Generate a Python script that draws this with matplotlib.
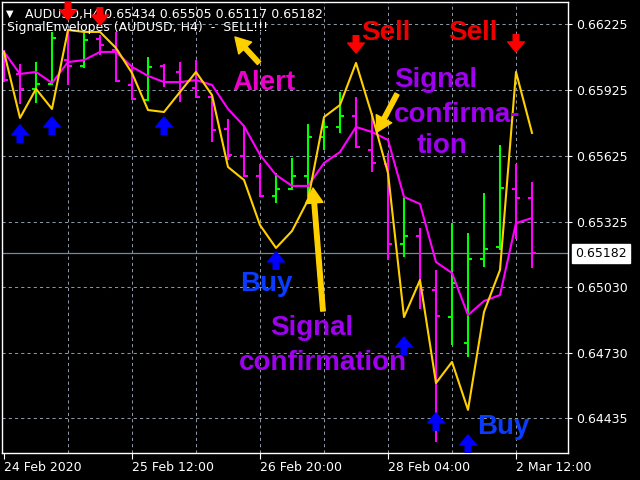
import numpy as np
import matplotlib
matplotlib.use('Agg')
import matplotlib.pyplot as plt

# AUDUSD H4 bars, index 0 is the leftmost visible bar
bar_open = [0.66084, 0.65998, 0.65930, 0.65952, 0.66061, 0.66034, 0.66157, 0.66107, 0.65948, 0.65880,
            0.66034, 0.66007, 0.65934, 0.65893, 0.65748, 0.65625, 0.65534, 0.65443, 0.65475, 0.65534,
            0.65711, 0.65757, 0.65807, 0.65652, 0.65589, 0.65225, 0.65261, 0.65016, 0.64893, 0.64775,
            0.65157, 0.65211, 0.65475, 0.65434]
bar_high = [0.66107, 0.66043, 0.66052, 0.66189, 0.66202, 0.66184, 0.66175, 0.66189, 0.66025, 0.66075,
            0.66043, 0.66052, 0.66061, 0.65893, 0.65793, 0.65766, 0.65589, 0.65548, 0.65616, 0.65770,
            0.65780, 0.65916, 0.65893, 0.65820, 0.65639, 0.65434, 0.65298, 0.65107, 0.65320, 0.65275,
            0.65457, 0.65675, 0.65589, 0.65505]
bar_low = [0.65961, 0.65861, 0.65866, 0.65948, 0.65948, 0.66025, 0.66084, 0.65961, 0.65880, 0.65875,
           0.65939, 0.65870, 0.65889, 0.65689, 0.65607, 0.65530, 0.65439, 0.65411, 0.65470, 0.65439,
           0.65652, 0.65730, 0.65661, 0.65552, 0.65152, 0.65166, 0.64930, 0.64325, 0.64766, 0.64711,
           0.65121, 0.65198, 0.65248, 0.65117]
bar_close = [0.65970, 0.65930, 0.65952, 0.66161, 0.66034, 0.66152, 0.66130, 0.65966, 0.65884, 0.66030,
             0.65961, 0.65961, 0.65893, 0.65743, 0.65630, 0.65534, 0.65443, 0.65475, 0.65534, 0.65711,
             0.65757, 0.65807, 0.65666, 0.65593, 0.65225, 0.65261, 0.65016, 0.64898, 0.65048, 0.65157,
             0.65202, 0.65480, 0.65434, 0.65182]

# indicator lines
fast_line = [0.66098, 0.65798, 0.65930, 0.65839, 0.66198, 0.66189, 0.66189, 0.66116, 0.66002, 0.65834,
             0.65825, 0.65916, 0.66007, 0.65902, 0.65575, 0.65516, 0.65311, 0.65207, 0.65284, 0.65425,
             0.65802, 0.65857, 0.66048, 0.65811, 0.65548, 0.64893, 0.65061, 0.64593, 0.64689, 0.64471,
             0.64916, 0.65107, 0.66007, 0.65730]
slow_line = [0.66098, 0.65998, 0.66007, 0.65957, 0.66052, 0.66061, 0.66098, 0.66098, 0.66030, 0.65989,
             0.65961, 0.65961, 0.65970, 0.65948, 0.65839, 0.65761, 0.65630, 0.65539, 0.65489, 0.65489,
             0.65593, 0.65643, 0.65757, 0.65734, 0.65698, 0.65439, 0.65407, 0.65143, 0.65093, 0.64902,
             0.64966, 0.64993, 0.65320, 0.65343]

# signal arrows (tip level)
buy_bars = [1, 3, 10, 17, 25, 27, 29]
buy_levels = [0.65766, 0.65802, 0.65802, 0.65189, 0.64802, 0.64457, 0.64357]
sell_bars = [4, 6, 22, 32]
sell_levels = [0.66243, 0.66220, 0.66093, 0.66098]

time_pos = [0, 8, 16, 24, 32]
time_labels = ['24 Feb 2020', '25 Feb 12:00', '26 Feb 20:00', '28 Feb 04:00', '2 Mar 12:00']
price_ticks = [0.66225, 0.65925, 0.65625, 0.65325, 0.65030, 0.64730, 0.64435]
last_price = 0.65182

GRID = '#8a96a3'
YELLOW = '#ffd000'
BOLD = dict(family=['Liberation Sans', 'DejaVu Sans'], weight='bold', fontsize=20)

fig = plt.figure(figsize=(6.4, 4.8), dpi=100, facecolor='black')
ax = fig.add_axes([2 / 640, 27 / 480, 566 / 640, 451 / 480], facecolor='black')

x = np.arange(len(bar_open))
up = np.array(bar_close) >= np.array(bar_open)
colors = np.where(up, '#00ff00', '#ff00ff')

# grid
for p in price_ticks:
    ax.axhline(p, color=GRID, lw=0.75, ls=(0, (3, 3)), zorder=0)
for i in range(4, 36, 4):
    ax.axvline(i, color=GRID, lw=0.75, ls=(0, (3, 3)), zorder=0)
ax.axhline(last_price, color='#778899', lw=0.9, zorder=0.5)

# OHLC bars
ax.vlines(x, bar_low, bar_high, colors=colors, lw=1.5, zorder=2)
ax.hlines(bar_open, x - 0.28, x, colors=colors, lw=1.5, zorder=2)
ax.hlines(bar_close, x, x + 0.28, colors=colors, lw=1.5, zorder=2)

ax.plot(x, slow_line, color='#ff00ff', lw=1.5, zorder=3)
ax.plot(x, fast_line, color=YELLOW, lw=1.5, zorder=3)

arrow_style = 'simple,head_length=0.6,head_width=1.0,tail_width=0.34'
for b, lvl in zip(buy_bars, buy_levels):
    ax.annotate('', xy=(b, lvl), xytext=(0, -12.5), textcoords='offset points',
                arrowprops=dict(arrowstyle=arrow_style, color='#0000ff', mutation_scale=12,
                                shrinkA=0, shrinkB=0), zorder=5, annotation_clip=False)
for b, lvl in zip(sell_bars, sell_levels):
    ax.annotate('', xy=(b, lvl), xytext=(0, 12.5), textcoords='offset points',
                arrowprops=dict(arrowstyle=arrow_style, color='#ff0000', mutation_scale=12,
                                shrinkA=0, shrinkB=0), zorder=5, annotation_clip=False)

ax.set_xlim(-0.125, 35.25)
ax.set_ylim(0.64275, 0.66325)

for s in ax.spines.values():
    s.set_color('white')
    s.set_linewidth(1.0)

ax.yaxis.tick_right()
ax.set_yticks(price_ticks)
ax.set_yticklabels([f'{p:.5f}' for p in price_ticks])
ax.tick_params(axis='y', colors='white', labelsize=9, length=3, width=0.8, pad=3)
ax.set_xticks(time_pos)
ax.set_xticklabels(time_labels)
ax.tick_params(axis='x', colors='white', labelsize=9, length=4, width=0.8, pad=2)
for lbl in ax.get_xticklabels():
    lbl.set_ha('left')

# current price box
ax.annotate(f'{last_price:.5f}', xy=(1, last_price), xycoords=ax.get_yaxis_transform(),
            xytext=(5, 0), textcoords='offset points', color='black', fontsize=9,
            va='center', ha='left', annotation_clip=False,
            bbox=dict(boxstyle='square,pad=0.25', fc='white', ec='white'))

# header
ax.text(6 / 640, 1 - 17 / 480, '\u25bc', color='white', fontsize=7, transform=fig.transFigure,
        va='baseline', zorder=4)
ax.text(25 / 640, 1 - 18 / 480,
        f'AUDUSD,H4 {bar_open[-1]:.5f} {bar_high[-1]:.5f} {bar_low[-1]:.5f} {bar_close[-1]:.5f}',
        color='white', fontsize=9, transform=fig.transFigure, va='baseline', zorder=4)
ax.text(7 / 640, 1 - 31 / 480, 'SignalEnvelopes (AUDUSD, H4)  -  SELL!!!', color='white',
        fontsize=9, transform=fig.transFigure, va='baseline', zorder=4)


def label(px, py, s, color):
    ax.annotate(s, xy=(px, 480 - py), xycoords='figure pixels', ha='center', va='baseline',
                color=color, zorder=6, annotation_clip=False, **BOLD)


def pointer(head, tail):
    ax.annotate('', xy=(head[0], 480 - head[1]), xycoords='figure pixels',
                xytext=(tail[0], 480 - tail[1]), textcoords='figure pixels',
                arrowprops=dict(arrowstyle='simple,head_length=0.9,head_width=1.05,tail_width=0.27',
                                color=YELLOW, mutation_scale=12, shrinkA=0, shrinkB=0),
                zorder=6, annotation_clip=False)


label(264, 90, 'Alert', '#ee00cc')
label(386, 40, 'Sell', '#ee0000')
label(473, 40, 'Sell', '#ee0000')
label(436, 87, 'Signal', '#a000f0')
label(457, 122, 'confirma-', '#a000f0')
label(442, 153, 'tion', '#a000f0')
label(312, 335, 'Signal', '#a000f0')
label(323, 370, 'confirmation', '#a000f0')
label(266, 291, 'Buy', '#0a3cff')
label(503, 434, 'Buy', '#0a3cff')

pointer((235, 37), (259, 63))
pointer((377, 132), (397, 94))
pointer((313, 188), (323, 311))

fig.savefig('out.png', dpi=100, facecolor='black')
